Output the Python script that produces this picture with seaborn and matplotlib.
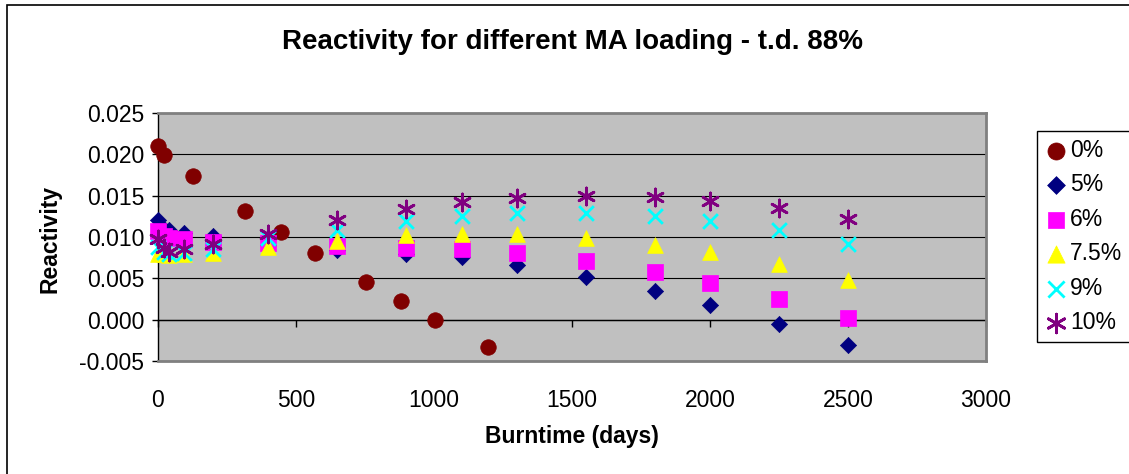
import numpy as np
import pandas as pd
import matplotlib
matplotlib.use("Agg")
import matplotlib.pyplot as plt
import seaborn as sns
from matplotlib.patches import Rectangle
from matplotlib.ticker import FormatStrFormatter

# ---------------- data ----------------
labels = ["0%", "5%", "6%", "7.5%", "9%", "10%"]

days_0 = [0, 20, 125, 315, 445, 568, 755, 880, 1005, 1195]
react_0 = [0.0210, 0.0199, 0.0174, 0.0132, 0.0106, 0.0081, 0.0045, 0.0022, 0.0000, -0.0033]

days_ma = [0, 20, 40, 95, 200, 400, 650, 900, 1100, 1300, 1550, 1800, 2000, 2250, 2500]
react_5 = [0.0120, 0.0110, 0.0108, 0.0105, 0.0101, 0.0090, 0.0084, 0.0079, 0.0076, 0.0066,
           0.0052, 0.0035, 0.0018, -0.0005, -0.0031]
react_6 = [0.0107, 0.0101, 0.0099, 0.0098, 0.0094, 0.0093, 0.0089, 0.0087, 0.0086, 0.0081,
           0.0071, 0.0058, 0.0044, 0.0025, 0.0002]
react_75 = [0.0080, 0.0079, 0.0078, 0.0079, 0.0081, 0.0088, 0.0095, 0.0102, 0.0104, 0.0104,
            0.0099, 0.0090, 0.0082, 0.0067, 0.0048]
react_9 = [0.0088, 0.0082, 0.0080, 0.0081, 0.0085, 0.0099, 0.0108, 0.0119, 0.0126, 0.0129,
           0.0129, 0.0126, 0.0119, 0.0108, 0.0092]
react_10 = [0.0098, 0.0087, 0.0082, 0.0086, 0.0092, 0.0104, 0.0120, 0.0134, 0.0142, 0.0147,
            0.0149, 0.0148, 0.0144, 0.0135, 0.0122]

x_ticks = [0, 500, 1000, 1500, 2000, 2500, 3000]
y_ticks = [-0.005, 0.000, 0.005, 0.010, 0.015, 0.020, 0.025]

title = "Reactivity for different MA loading - t.d. 88%"
x_label = "Burntime (days)"
y_label = "Reactivity"

# ---------------- style ----------------
sns.set_theme(style="white")
plt.rcParams['font.family'] = ['Liberation Sans', 'DejaVu Sans']
plt.rcParams['axes.unicode_minus'] = False

W, H = 1129, 474
fig = plt.figure(figsize=(W / 100, H / 100), dpi=100)
fig.patch.set_facecolor("white")
L, R, T, B = 158, 986, 113, 361
ax = fig.add_axes([L / W, 1 - B / H, (R - L) / W, (B - T) / H])
ax.set_facecolor("#C0C0C0")

series = [
    (days_0, react_0, "0%", dict(marker="o", color="#800000", s=125)),
    (days_ma, react_5, "5%", dict(marker="D", color="#000080", s=68)),
    (days_ma, react_6, "6%", dict(marker="s", color="#FF00FF", s=118)),
    (days_ma, react_75, "7.5%", dict(marker="^", color="#FFFF00", s=128)),
    (days_ma, react_9, "9%", dict(marker="x", color="#00FFFF", s=112, linewidth=2.0)),
    (days_ma, react_10, "10%", dict(marker=(6, 2, 0), color="#800080", s=150, linewidth=2.0)),
]

for i, (xs, ys, lab, st) in enumerate(series):
    df = pd.DataFrame({"Burntime": xs, "Reactivity": ys})
    kw = dict(st)
    if kw["marker"] in ("o", "D", "s", "^"):
        kw["edgecolor"] = kw["color"]
        kw["linewidth"] = 0.5
    sns.scatterplot(data=df, x="Burntime", y="Reactivity", ax=ax, label=lab,
                    zorder=4 + i, clip_on=False, **kw)

ax.set_xlim(0, 3000)
ax.set_ylim(-0.005, 0.025)
ax.set_xticks(x_ticks)
ax.set_yticks(y_ticks)
ax.yaxis.set_major_formatter(FormatStrFormatter("%.3f"))
ax.set_xticklabels([str(v) for v in x_ticks])

ax.yaxis.grid(True, color="black", linewidth=0.8, zorder=1)
ax.xaxis.grid(False)
ax.set_axisbelow(True)

for side in ("top", "right", "bottom"):
    ax.spines[side].set_color("#808080")
    ax.spines[side].set_linewidth(2.0)
ax.spines["left"].set_color("black")
ax.spines["left"].set_linewidth(1.0)

ax.tick_params(axis="y", which="major", direction="out", length=4, width=1,
               color="black", left=True, labelsize=16.5, pad=6, labelcolor="black")
ax.tick_params(axis="x", which="major", length=0, labelsize=16.5, pad=20, labelcolor="black")

# x-axis line crossing at y = 0 with outward ticks
sec = ax.secondary_xaxis(0, transform=ax.transData)
sec.set_xticks(x_ticks)
sec.set_xticklabels([])
sec.tick_params(direction="out", length=5, width=1, color="black")
sec.spines["bottom"].set_color("black")
sec.spines["bottom"].set_linewidth(1.0)

ax.set_xlabel(x_label, fontsize=16.5, fontweight="bold", color="black")
ax.set_ylabel(y_label, fontsize=16.5, fontweight="bold", color="black")
ax.xaxis.set_label_coords((572 - L) / (R - L), (B - 437) / (B - T))
ax.xaxis.label.set_verticalalignment("center")
ax.yaxis.set_label_coords((50 - L) / (R - L), (B - 239) / (B - T))
ax.yaxis.label.set_verticalalignment("center")

ax.text((573 - L) / (R - L), (B - 42) / (B - T), title, transform=ax.transAxes,
        ha="center", va="center", fontsize=20, fontweight="bold", color="black")

leg = ax.legend(loc="upper left", bbox_to_anchor=(1037 / W, 1 - 131 / H),
                bbox_transform=fig.transFigure, frameon=True, fancybox=False,
                edgecolor="black", fontsize=16.5, handletextpad=0.1,
                labelspacing=0.5, borderpad=0.35, handlelength=1.0,
                borderaxespad=0, framealpha=1, markerscale=1.1)
leg.get_frame().set_linewidth(1.0)
for t in leg.get_texts():
    t.set_color("black")

fig.patches.append(Rectangle((7 / W, -0.1), 1.5, 1.1 - 5 / H, transform=fig.transFigure,
                             fill=False, edgecolor="black", linewidth=1.2))

fig.savefig("out.png", dpi=100)
